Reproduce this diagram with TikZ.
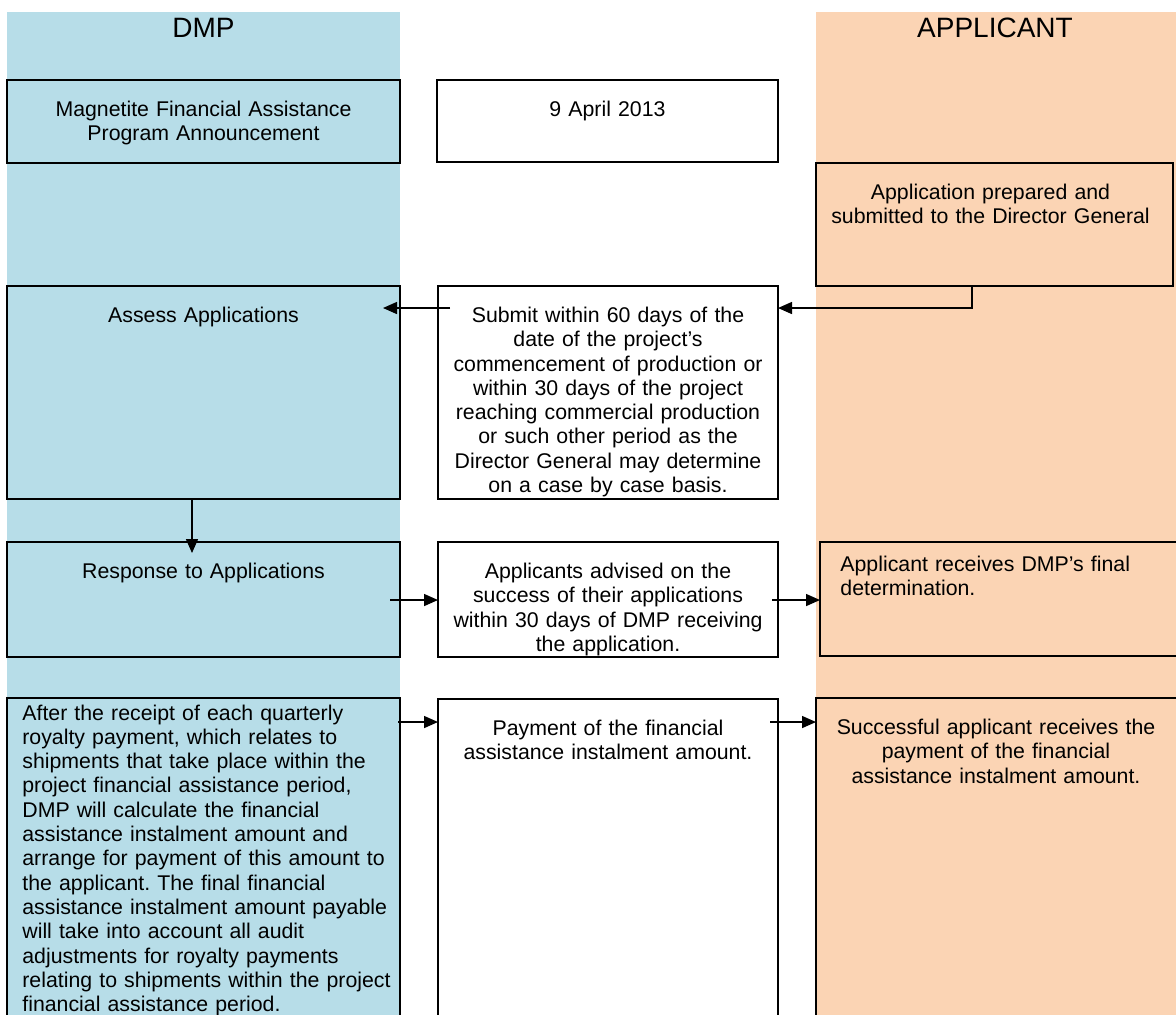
\documentclass[tikz,border=0pt]{standalone}
\usepackage{fontspec}
\setmainfont{Liberation Sans}
\usepackage{xcolor}
\usetikzlibrary{arrows.meta}

\definecolor{dmpblue}{RGB}{183,221,232}
\definecolor{apporange}{RGB}{251,212,180}
\frenchspacing

\begin{document}
\begin{tikzpicture}[x=0.5pt, y=-0.5pt,
        stage/.style={draw=black, line width=1pt, inner sep=0pt, outer sep=0pt},
        txt/.style={anchor=north, inner sep=0pt, align=center,
            font=\fontsize{10.65}{12.15}\selectfont, execute at begin node=\strut},
        lanehead/.style={inner sep=0pt, font=\fontsize{14}{16}\selectfont},
        arr/.style={line width=0.75pt, -{Triangle[length=7pt,width=6pt]}}]
        \useasboundingbox (0,0) rectangle (1176,1014);

        % lanes
        \fill[dmpblue] (7,12) rectangle (400,1014);
        \fill[apporange] (816,12) rectangle (1176,1014);
        \node[lanehead] (dmp) at (203.5,28) {DMP};
        \node[lanehead] (applicant) at (995,28) {APPLICANT};

        % boxes
        \node[stage, fill=dmpblue, minimum width=196.5pt, minimum height=41.5pt] (announce) at (203.5,121.5) {};
        \node[stage, fill=white, minimum width=170.5pt, minimum height=41pt] (date) at (607.5,121) {};
        \node[stage, fill=apporange, minimum width=178.5pt, minimum height=61.5pt] (prepared) at (994.5,224.5) {};

        \node[stage, fill=dmpblue, minimum width=196.5pt, minimum height=106.5pt] (assess) at (203.5,392.5) {};
        \node[stage, fill=white, minimum width=170pt, minimum height=106.5pt] (submit) at (608,392.5) {};

        \node[stage, fill=dmpblue, minimum width=196.5pt, minimum height=57.5pt] (response) at (203.5,599.5) {};
        \node[stage, fill=white, minimum width=170pt, minimum height=57.5pt] (advised) at (608,599.5) {};
        \node[stage, fill=apporange, minimum width=180pt, minimum height=57pt] (receives) at (1000,599) {};

        \node[stage, fill=dmpblue, minimum width=196.5pt, minimum height=163pt] (receipt) at (203.5,861) {};
        \node[stage, fill=white, minimum width=170pt, minimum height=162.5pt] (payment) at (608,861.5) {};
        \node[stage, fill=apporange, minimum width=182pt, minimum height=163pt] (success) at (998,861) {};

        % texts
        \node[txt, text width=190pt, yshift=-9.5pt] (announce text) at (announce.north)
            {Magnetite Financial Assistance\\Program Announcement};
        \node[txt, text width=165pt, yshift=-9.5pt] (date text) at (date.north) {9 April 2013};
        \node[txt, text width=175pt, yshift=-9.5pt, xshift=-2pt] (prepared text) at (prepared.north)
            {Application prepared and\\submitted to the Director General};
        \node[txt, text width=190pt, yshift=-9.5pt] (assess text) at (assess.north) {Assess Applications};
        \node[txt, text width=165pt, yshift=-9.5pt] (submit text) at (submit.north)
            {Submit within 60 days of the\\date of the project's\\commencement of production or\\within 30 days of the project\\reaching commercial production\\or such other period as the\\Director General may determine\\on a case by case basis.};
        \node[txt, text width=190pt, yshift=-9.5pt] (response text) at (response.north) {Response to Applications};
        \node[txt, text width=165pt, yshift=-9.5pt] (advised text) at (advised.north)
            {Applicants advised on the\\success of their applications\\within 30 days of DMP receiving\\the application.};
        \node[txt, anchor=north west, align=left, text width=165pt, yshift=-5.8pt] (receives text)
            at ([xshift=10pt]receives.north west) {Applicant receives DMP's final\\determination.};
        \node[txt, anchor=north west, align=left, text width=190pt, yshift=-2.3pt] (receipt text)
            at ([xshift=7.5pt]receipt.north west)
            {After the receipt of each quarterly\\royalty payment, which relates to\\shipments that take place within the\\project financial assistance period,\\DMP will calculate the financial\\assistance instalment amount and\\arrange for payment of this amount to\\the applicant. The final financial\\assistance instalment amount payable\\will take into account all audit\\adjustments for royalty payments\\relating to shipments within the project\\financial assistance period.};
        \node[txt, text width=165pt, yshift=-9.5pt] (payment text) at (payment.north)
            {Payment of the financial\\assistance instalment amount.};
        \node[txt, text width=175pt, yshift=-9.5pt, xshift=-1pt] (success text) at (success.north)
            {Successful applicant receives the\\payment of the financial\\assistance instalment amount.};

        % connectors
        \coordinate (bend) at (972,308);
        \coordinate (drop) at (192,0);
        \coordinate (row) at (0,600);
        \coordinate (pay) at (0,722);
        \draw[arr] (prepared.south -| bend) -- (bend) -- (bend -| submit.east);
        \draw[arr] ([xshift=6pt]submit.west |- bend) -- ([xshift=-8.5pt]assess.east |- bend);
        \draw[arr] (assess.south -| drop) -- ([yshift=-5.5pt]response.north -| drop);
        \draw[arr] ([xshift=-5pt]response.east |- row) -- (advised.west |- row);
        \draw[arr] ([xshift=-3pt]advised.east |- row) -- (receives.west |- row);
        \draw[arr] ([xshift=-1pt]receipt.east |- pay) -- (payment.west |- pay);
        \draw[arr] ([xshift=-4pt]payment.east |- pay) -- (success.west |- pay);
    \end{tikzpicture}
\end{document}
